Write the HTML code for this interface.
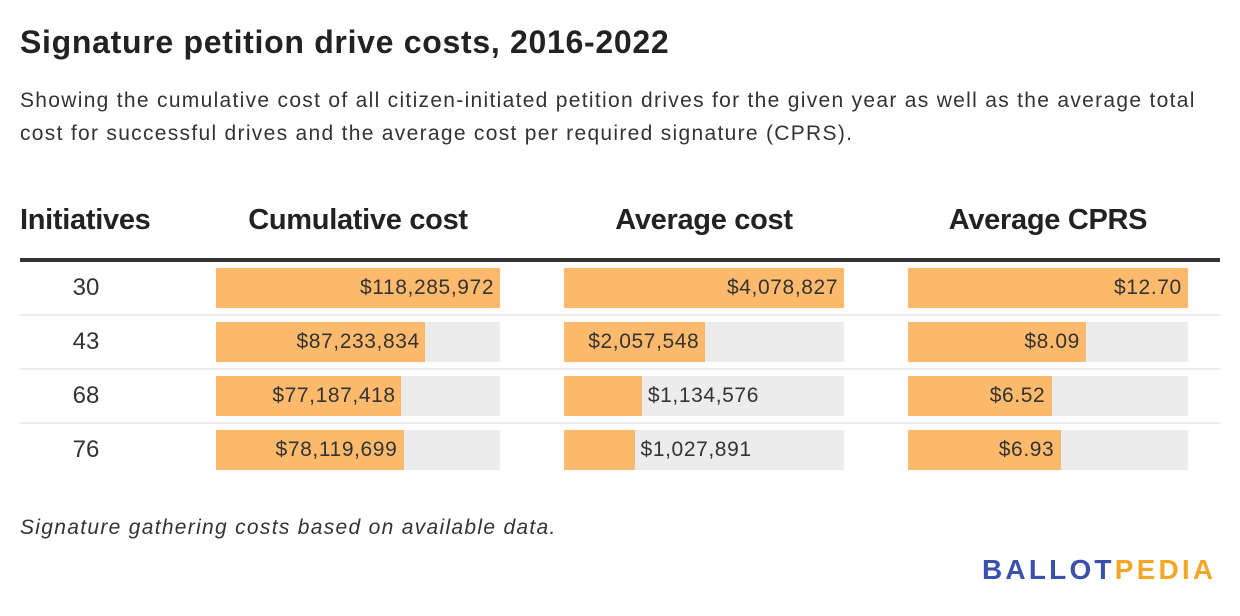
<!DOCTYPE html>
<html><head><meta charset="utf-8"><style>
body{margin:0;width:1240px;height:616px;background:#fff;font-family:"Liberation Sans",sans-serif;color:#333;position:relative;overflow:hidden}
.abs{position:absolute}
h1{position:absolute;left:20px;top:24px;margin:0;font-size:32px;font-weight:bold;color:#222;letter-spacing:0.7px}
.sub{left:20px;top:84px;width:1200px;font-size:21px;line-height:33px;color:#333;letter-spacing:1.3px}
.hd{top:204px;font-size:29px;font-weight:bold;color:#222;letter-spacing:-0.3px}
.num{font-size:24px;width:132px;text-align:center;left:20px}
.bg{background:#ececec;height:40px}
.bar{background:#feba6c;height:40px;position:absolute;left:0;top:0}
.lbl{position:absolute;top:0;line-height:40px;font-size:21px;color:#333;white-space:nowrap;letter-spacing:0.6px}
.sep{left:20px;width:1200px;height:2px;background:#ececec}
</style></head><body>
<h1>Signature petition drive costs, 2016-2022</h1>
<div class="abs sub">Showing the cumulative cost of all citizen-initiated petition drives for the given year as well as the average total<br>cost for successful drives and the average cost per required signature (CPRS).</div>
<div class="abs hd" style="left:20px">Initiatives</div>
<div class="abs hd" style="left:216px;width:284px;text-align:center">Cumulative cost</div>
<div class="abs hd" style="left:564px;width:280px;text-align:center">Average cost</div>
<div class="abs hd" style="left:908px;width:280px;text-align:center">Average CPRS</div>
<div class="abs" style="left:20px;top:258px;width:1200px;height:4px;background:#333"></div>
<div id="tbl"></div>
<div class="abs" style="left:20px;top:516px;font-size:21px;font-style:italic;color:#333;letter-spacing:1.3px">Signature gathering costs based on available data.</div>
<div class="abs" style="left:982px;top:554px;font-size:28px;font-weight:bold;letter-spacing:3.2px"><span style="color:#3b4fad">BALLOT</span><span style="color:#f4a727">PEDIA</span></div>
<script>
const initiatives=[30,43,68,76];
const cumulativeCost=[118285972,87233834,77187418,78119699];
const averageCost=[4078827,2057548,1134576,1027891];
const averageCprs=[12.70,8.09,6.52,6.93];
const fmtD=v=>'$'+Math.round(v).toLocaleString('en-US');
const fmtC=v=>'$'+v.toFixed(2);
const cols=[{x:216,w:284,vals:cumulativeCost,f:fmtD,n:'cumulative-cost'},{x:564,w:280,vals:averageCost,f:fmtD,n:'average-cost'},{x:908,w:280,vals:averageCprs,f:fmtC,n:'average-cprs'}];
const tbl=document.getElementById('tbl');
initiatives.forEach((iv,i)=>{
  const top=268+i*54;
  const n=document.createElement('div');n.className='abs num';n.style.top=top+'px';n.style.lineHeight='40px';n.textContent=iv;
  
  
  tbl.appendChild(n);
  if(i>0){const s=document.createElement('div');s.className='abs sep';s.style.top=(top-8)+'px';
  
  
  tbl.appendChild(s);}
  cols.forEach(c=>{
    const max=Math.max(...c.vals);const bw=c.vals[i]/max*c.w;
    const bg=document.createElement('div');bg.className='abs bg';bg.style.left=c.x+'px';bg.style.top=top+'px';bg.style.width=c.w+'px';
    
    
    const b=document.createElement('div');b.className='bar';b.style.width=bw+'px';
    
    
    bg.appendChild(b);
    const l=document.createElement('div');l.className='lbl';l.textContent=c.f(c.vals[i]);
    
    
    bg.appendChild(l);tbl.appendChild(bg);
    const lw=l.offsetWidth;
    if(lw+12<bw){l.style.left=(bw-lw-6)+'px';}else{l.style.left=(bw+6)+'px';}
  });
});
</script>
</body></html>
